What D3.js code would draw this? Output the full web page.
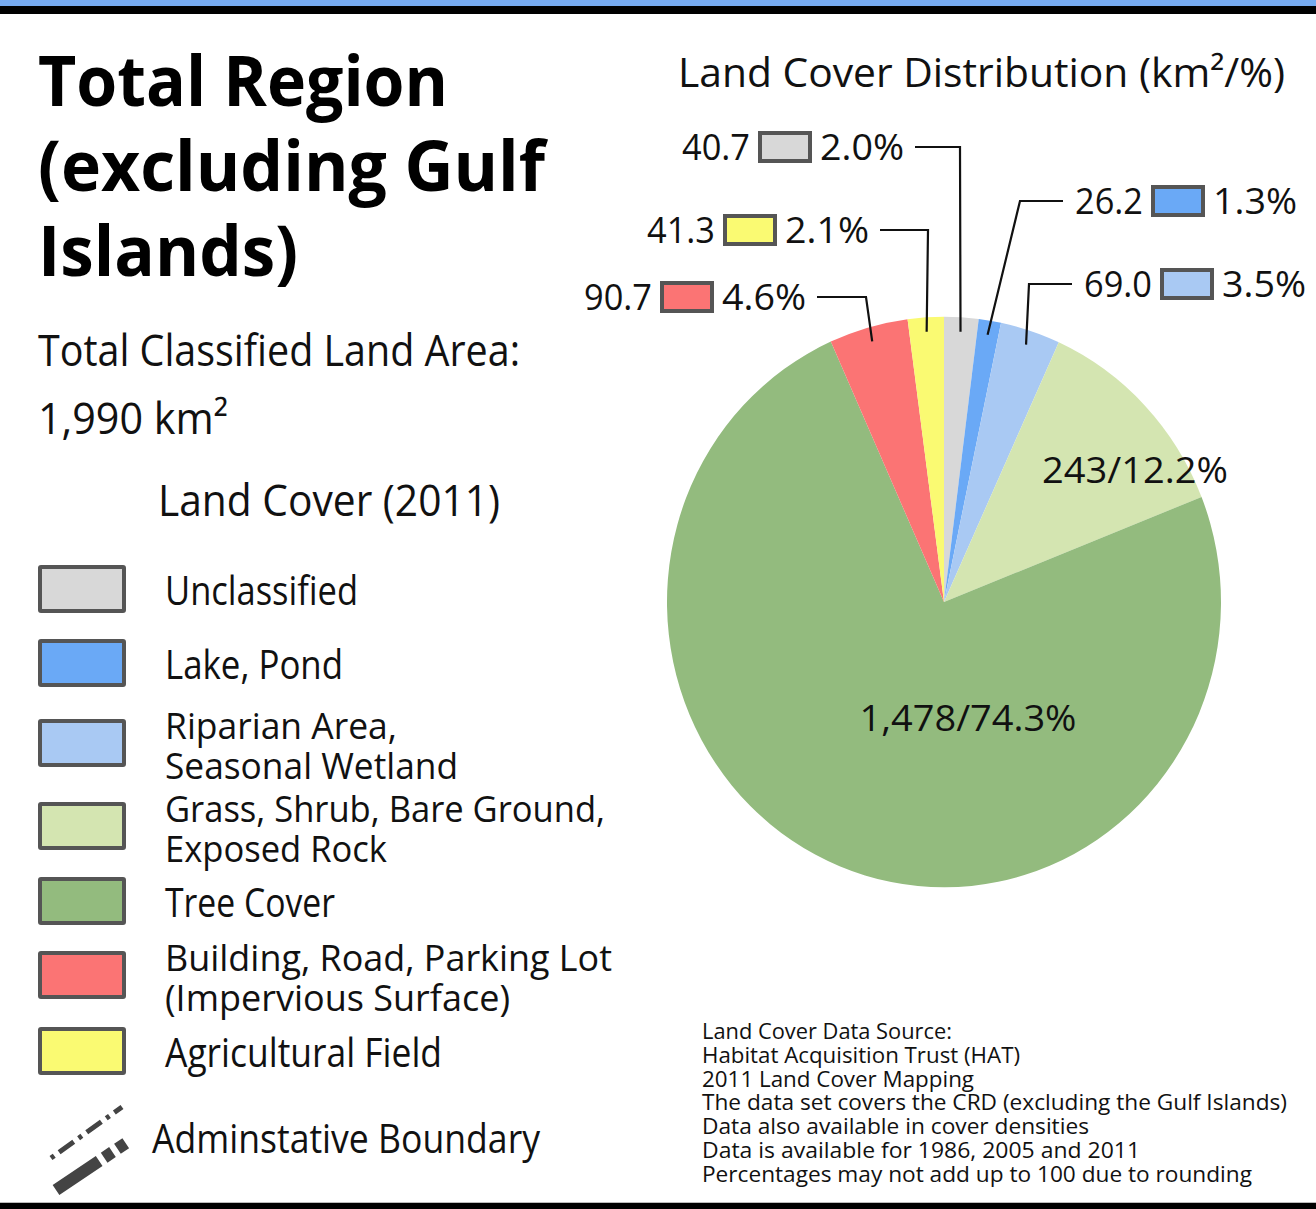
<!DOCTYPE html>
<html>
<head>
<meta charset="utf-8">
<script src="https://cdn.jsdelivr.net/npm/d3@7"></script>
<style>
  html, body { margin: 0; padding: 0; background: #fff; }
  svg { display: block; font-family: "Open Sans", "Noto Sans", sans-serif; }
</style>
</head>
<body>
<svg id="chart" width="1316" height="1209"></svg>
<script>
// Land cover, CRD total region (excluding Gulf Islands), 2011
const categories = [
  "Unclassified",
  "Lake, Pond",
  "Riparian Area, Seasonal Wetland",
  "Grass, Shrub, Bare Ground, Exposed Rock",
  "Tree Cover",
  "Building, Road, Parking Lot (Impervious Surface)",
  "Agricultural Field"
];
const areaLabels = ["40.7", "26.2", "69.0", "243", "1,478", "90.7", "41.3"];
const sharePct = [2.0, 1.3, 3.5, 12.2, 74.3, 4.6, 2.1];

// legend text, broken the way the original wraps it
const legendLines = [
  ["Unclassified"],
  ["Lake, Pond"],
  ["Riparian Area,", "Seasonal Wetland"],
  ["Grass, Shrub, Bare Ground,", "Exposed Rock"],
  ["Tree Cover"],
  ["Building, Road, Parking Lot", "(Impervious Surface)"],
  ["Agricultural Field"]
];

const footnote = [
  "Land Cover Data Source:",
  "Habitat Acquisition Trust (HAT)",
  "2011 Land Cover Mapping",
  "The data set covers the CRD (excluding the Gulf Islands)",
  "Data also available in cover densities",
  "Data is available for 1986, 2005 and 2011",
  "Percentages may not add up to 100 due to rounding"
];

const palette = ["#d8d8d8", "#6aa9f6", "#a9c9f3", "#d4e5b1", "#93bb7e", "#fb7474", "#fafa72"];
const color = d3.scaleOrdinal(categories, palette);

const svg = d3.select("#chart");
const W = 1316, H = 1209;

// frame bands
svg.append("rect").attr("width", W).attr("height", H).attr("fill", "#fff");
svg.append("rect").attr("x", 0).attr("y", 0).attr("width", W).attr("height", 6).attr("fill", "#76aaf0");
svg.append("rect").attr("x", 0).attr("y", 6).attr("width", W).attr("height", 8).attr("fill", "#000");
svg.append("rect").attr("x", 0).attr("y", 1202).attr("width", W).attr("height", 1).attr("fill", "#bbb");
svg.append("rect").attr("x", 0).attr("y", 1203).attr("width", W).attr("height", 6).attr("fill", "#000");

// text helper: fits the string into a measured width
function txt(parent, x, y, s, size, width, opts = {}) {
  const t = parent.append("text")
    .attr("x", x)
    .attr("y", y)
    .attr("font-size", size)
    .attr("fill", "#111")
    .attr("font-weight", opts.weight || 400)
    .attr("text-anchor", opts.anchor || "start")
    .text(s);
  if (width) t.attr("textLength", width).attr("lengthAdjust", "spacingAndGlyphs");
  return t;
}

// ---- left column ----
txt(svg, 38, 106, "Total Region", 70, 410, { weight: 700 }).attr("fill", "#000");
txt(svg, 38, 191, "(excluding Gulf", 70, 507, { weight: 700 }).attr("fill", "#000");
txt(svg, 38, 276, "Islands)", 70, 260, { weight: 700 }).attr("fill", "#000");

txt(svg, 38, 366, "Total Classified Land Area:", 44, 482);
txt(svg, 38, 434, "1,990 km²", 44, 190);

txt(svg, 158, 516, "Land Cover (2011)", 44, 342);

const legendTop = [567, 641, 721, 804, 879, 953, 1029];
const legendWidths = [
  [193],
  [178],
  [232, 293],
  [440, 222],
  [170],
  [447, 345],
  [277]
];
const legend = svg.append("g");
categories.forEach((c, i) => {
  const y0 = legendTop[i];
  legend.append("rect")
    .attr("x", 40).attr("y", y0)
    .attr("width", 84).attr("height", 44)
    .attr("fill", color(c))
    .attr("stroke", "#555")
    .attr("stroke-width", 4)
    .attr("rx", 1);
  const lines = legendLines[i];
  const ys = lines.length === 1 ? [y0 + 38] : [y0 + 18, y0 + 58];
  lines.forEach((l, j) => txt(legend, 165, ys[j], l, lines.length === 1 ? 40 : 37, legendWidths[i][j]));
});

// administrative boundary symbol
const sym = svg.append("g").attr("stroke", "#444").attr("fill", "none");
sym.append("line")
  .attr("x1", 51).attr("y1", 1158).attr("x2", 122).attr("y2", 1107)
  .attr("stroke-width", 5)
  .attr("stroke-dasharray", "4 6 18 6 4 6 18 6");
sym.append("line")
  .attr("x1", 56).attr("y1", 1190).attr("x2", 129).attr("y2", 1141)
  .attr("stroke-width", 12)
  .attr("stroke-dasharray", "52 6 10 6 10 20");
txt(svg, 152, 1153, "Adminstative Boundary", 40, 388);

// ---- pie ----
txt(svg, 678, 87, "Land Cover Distribution (km²/%)", 40, 607);

const cx = 944, cy = 602, R = 277, yStretch = 1.03;

const slices = d3.pie()
  .sort(null)
  .value(d => d.pct)
  .startAngle(0)
  .endAngle(2 * Math.PI)(categories.map((c, i) => ({ c, i, pct: sharePct[i] })));

const arc = d3.arc().innerRadius(0).outerRadius(R);

svg.append("g")
  .attr("transform", `translate(${cx},${cy}) scale(1,${yStretch})`)
  .selectAll("path")
  .data(slices)
  .join("path")
  .attr("d", arc)
  .attr("fill", d => color(d.data.c));

// point on the slice's mid-angle, in page coordinates
function sliceAnchor(s, r) {
  const a = (s.startAngle + s.endAngle) / 2;
  return [cx + r * Math.sin(a), cy - r * Math.cos(a) * yStretch];
}

// callouts for the thin slices
const callouts = [
  { i: 0, side: "left", boxX: 760, rowY: 147, elbowX: 960 },
  { i: 6, side: "left", boxX: 725, rowY: 230, elbowX: 928 },
  { i: 5, side: "left", boxX: 662, rowY: 297, elbowX: 866 },
  { i: 1, side: "right", boxX: 1153, rowY: 201, elbowX: 1020 },
  { i: 2, side: "right", boxX: 1162, rowY: 284, elbowX: 1029 }
];

const co = svg.append("g");
callouts.forEach(d => {
  const s = slices[d.i];
  const [px, py] = sliceAnchor(s, 263);
  const lineStart = d.side === "left" ? d.boxX + 155 : d.boxX - 90;
  co.append("path")
    .attr("d", d3.line()([[lineStart, d.rowY], [d.elbowX, d.rowY], [px, py]]))
    .attr("fill", "none")
    .attr("stroke", "#111")
    .attr("stroke-width", 2.2);
  co.append("rect")
    .attr("x", d.boxX).attr("y", d.rowY - 14)
    .attr("width", 50).attr("height", 28)
    .attr("fill", color(categories[d.i]))
    .attr("stroke", "#555")
    .attr("stroke-width", 4);
  txt(co, d.boxX - 10, d.rowY + 13, areaLabels[d.i], 37, 68, { anchor: "end" });
  txt(co, d.boxX + 60, d.rowY + 13, sharePct[d.i].toFixed(1) + "%", 37, 84);
});

// labels sitting inside the large slices
const innerLabels = [
  { i: 3, dx: 191, dy: -132, w: 186 },
  { i: 4, dx: 24, dy: 116, w: 217 }
];
innerLabels.forEach(d => {
  txt(svg, cx + d.dx, cy + d.dy + 13, `${areaLabels[d.i]}/${sharePct[d.i].toFixed(1)}%`, 37, d.w, { anchor: "middle" });
});

// ---- source note ----
const noteWidths = [250, 318, 272, 585, 387, 438, 550];
footnote.forEach((l, j) => {
  txt(svg, 702, 1039 + j * 23.8, l, 21, noteWidths[j]);
});
</script>
</body>
</html>
